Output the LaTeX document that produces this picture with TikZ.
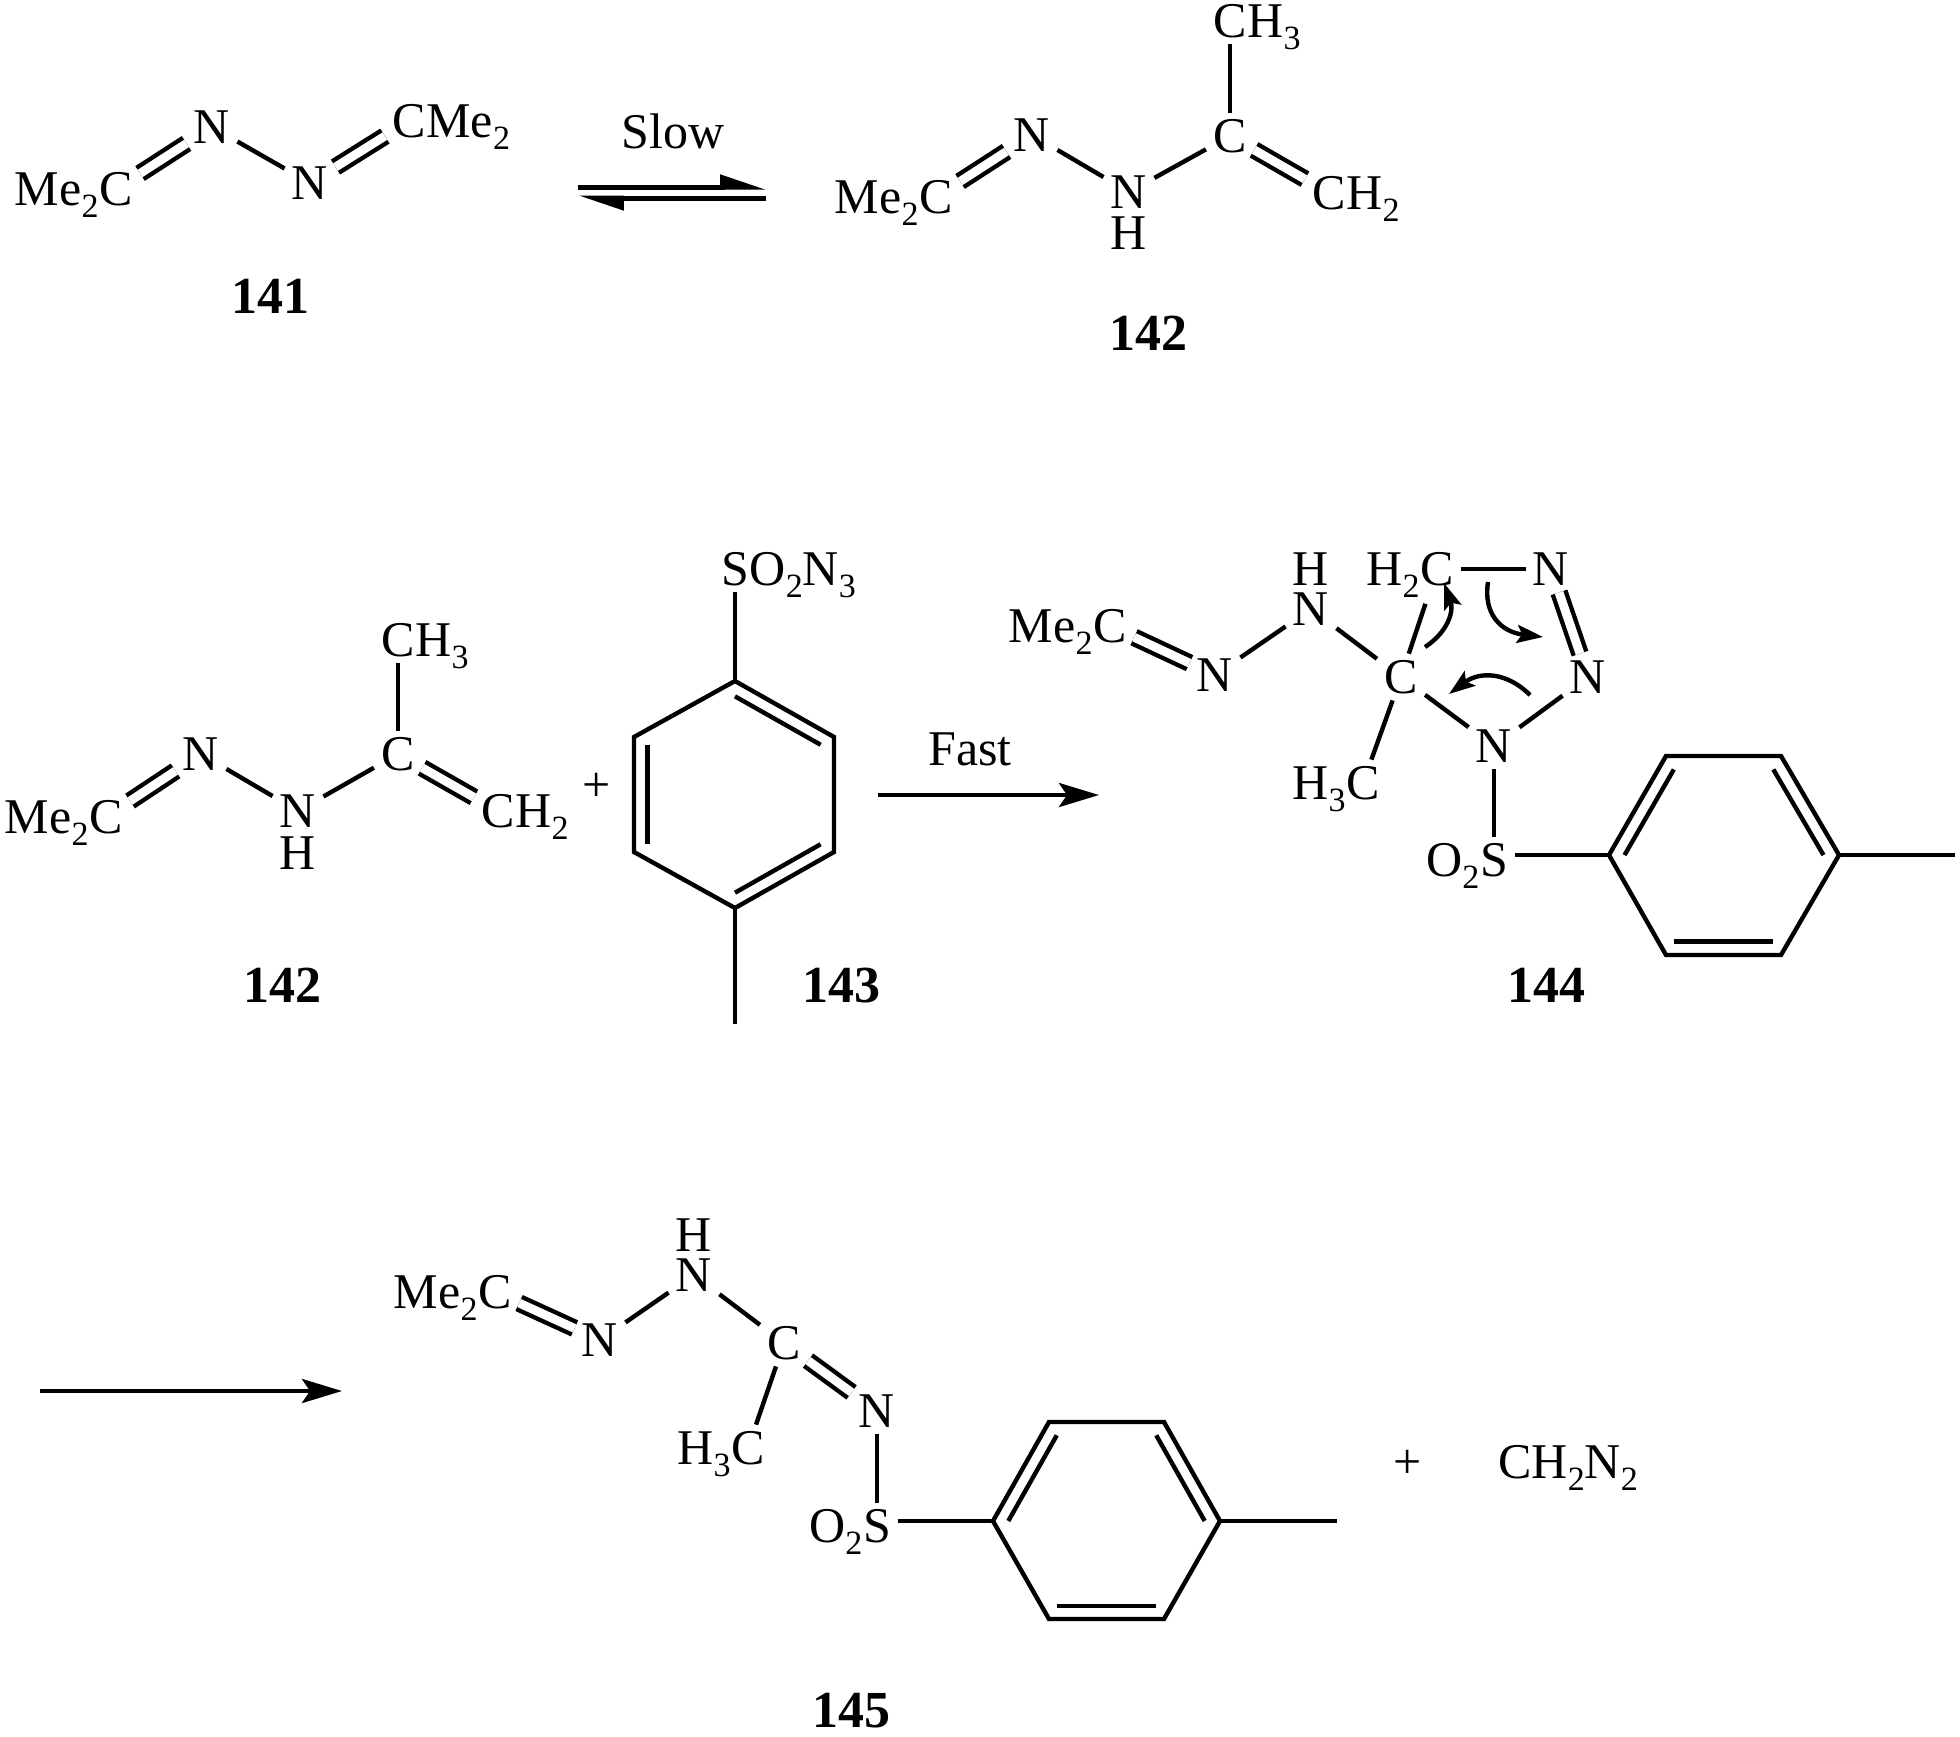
\documentclass[tikz,border=0pt]{standalone}
\usepackage{fontspec}
\setmainfont{Liberation Serif}
\usepackage{tikz}
\usetikzlibrary{arrows.meta,%
                calc,%
                positioning}
\newcommand{\Sb}[1]{\raisebox{-6pt}{\fontsize{17}{17}\selectfont #1}}

\begin{document}
\begin{tikzpicture}[x=0.5pt,y=-0.5pt]
  \tikzstyle{AtomStyle}=[font=\fontsize{25}{30}\selectfont,text height=16pt,text depth=0pt,inner sep=3.5pt]
  \tikzstyle{FragLeft}=[font=\fontsize{25}{30}\selectfont,inner sep=0pt,base left=-3.5pt of #1]
  \tikzstyle{FragRight}=[font=\fontsize{25}{30}\selectfont,inner sep=0pt,base right=-3.5pt of #1]
  \tikzstyle{TextStyle}=[font=\fontsize{25}{30}\selectfont,inner sep=0pt,anchor=base]
  \tikzstyle{NumStyle}=[font=\fontsize{26}{30}\selectfont\bfseries,inner sep=0pt,anchor=base]
  \tikzstyle{BondStyle}=[line width=2.2pt]
  \tikzstyle{DoubleStyle}=[line width=2.2pt,double,double distance=4.4pt]
  \tikzstyle{RingStyle}=[line width=2.2pt,line join=miter]
  \tikzstyle{FwdStyle}=[line width=2.2pt,-{Stealth[length=20pt,width=12pt,inset=4pt]}]
  \tikzstyle{EqStyle}=[line width=2.5pt,-{Stealth[harpoon,length=19pt,width=12pt,inset=0pt]}]
  \tikzstyle{CurveStyle}=[line width=2.2pt,-{Stealth[length=13pt,width=9pt,inset=2.5pt]}]
  \useasboundingbox (0,0) rectangle (1960,1736);

  % 141
  \node[AtomStyle] (AC) at (116,189) {C};
  \node[FragLeft=AC] (AMe) {Me\Sb{2}};
  \node[AtomStyle] (AN) at (212,127) {N};
  \node[AtomStyle] (BN) at (310,183) {N};
  \node[AtomStyle] (BC) at (409,121) {C};
  \node[FragRight=BC] (BMe) {Me\Sb{2}};
  \node[NumStyle] (N141) at (270,313) {141};
  \draw[DoubleStyle] (AC) -- (AN);
  \draw[BondStyle] (AN) -- (BN);
  \draw[DoubleStyle] (BN) -- (BC);

  % equilibrium
  \node[TextStyle] (Slow) at (673,148) {Slow};
  \coordinate (E1) at (578,187);
  \coordinate (E2) at (766,187);
  \coordinate (E3) at (766,198);
  \coordinate (E4) at (578,198);
  \draw[EqStyle] (E1) -- (E2);
  \draw[EqStyle] (E3) -- (E4);

  % 142 top
  \node[AtomStyle] (CC) at (936,197) {C};
  \node[FragLeft=CC] (CMe) {Me\Sb{2}};
  \node[AtomStyle] (CN) at (1032,135) {N};
  \node[AtomStyle] (DN) at (1129,192) {N};
  \node[AtomStyle] (DH) at (1129,233) {H};
  \node[AtomStyle] (DC) at (1230,136) {C};
  \node[AtomStyle] (EC) at (1230,21) {C};
  \node[FragRight=EC] (EH) {H\Sb{3}};
  \node[AtomStyle] (FC) at (1329,193) {C};
  \node[FragRight=FC] (FH) {H\Sb{2}};
  \node[NumStyle] (N142a) at (1148,350) {142};
  \draw[DoubleStyle] (CC) -- (CN);
  \draw[BondStyle] (CN) -- (DN);
  \draw[BondStyle] (DN) -- (DC);
  \draw[BondStyle] (DC) -- (EC);
  \draw[DoubleStyle] (DC) -- (FC);

  % 142 middle
  \node[AtomStyle] (GC) at (106,817) {C};
  \node[FragLeft=GC] (GMe) {Me\Sb{2}};
  \node[AtomStyle] (GN) at (201,754) {N};
  \node[AtomStyle] (HN) at (298,811) {N};
  \node[AtomStyle] (HH) at (298,853) {H};
  \node[AtomStyle] (HC) at (398,754) {C};
  \node[AtomStyle] (IC) at (398,640) {C};
  \node[FragRight=IC] (IH) {H\Sb{3}};
  \node[AtomStyle] (JC) at (498,811) {C};
  \node[FragRight=JC] (JH) {H\Sb{2}};
  \node[NumStyle] (N142b) at (282,1002) {142};
  \draw[DoubleStyle] (GC) -- (GN);
  \draw[BondStyle] (GN) -- (HN);
  \draw[BondStyle] (HN) -- (HC);
  \draw[BondStyle] (HC) -- (IC);
  \draw[DoubleStyle] (HC) -- (JC);
  \node[TextStyle] (Plus1) at (597,801) {+};

  % 143
  \coordinate (P0) at (735,794.5);
  \coordinate (P1) at (735,681);
  \coordinate (P2) at (834,737);
  \coordinate (P3) at (834,852);
  \coordinate (P4) at (735,908);
  \coordinate (P5) at (634,852);
  \coordinate (P6) at (634,737);
  \coordinate (PM) at (735,1024);
  \draw[RingStyle] (P1) -- (P2) -- (P3) -- (P4) -- (P5) -- (P6) -- cycle;
  \foreach \a/\b in {P1/P2,P3/P4,P5/P6}
    \draw[BondStyle] ($(\a)!.135!(P0)$) -- ($(\b)!.135!(P0)$);
  \node[AtomStyle] (PS) at (735,569) {S};
  \node[FragRight=PS] (PO) {O\Sb{2}N\Sb{3}};
  \draw[BondStyle] (PS) -- (P1);
  \draw[BondStyle] (P4) -- (PM);
  \node[NumStyle] (N143) at (841,1002) {143};

  % fast
  \node[TextStyle] (Fast) at (970,765) {Fast};
  \coordinate (F1) at (878,795);
  \coordinate (F2) at (1099,795);
  \draw[FwdStyle] (F1) -- (F2);

  % 144
  \node[AtomStyle] (KC) at (1110,626) {C};
  \node[FragLeft=KC] (KMe) {Me\Sb{2}};
  \node[AtomStyle] (KN) at (1215,675) {N};
  \node[AtomStyle] (LN) at (1311,609) {N};
  \node[AtomStyle] (LH) at (1311,569) {H};
  \node[AtomStyle] (LC) at (1401,677) {C};
  \node[AtomStyle] (MC) at (1437,569) {C};
  \node[FragLeft=MC] (MH) {H\Sb{2}};
  \node[AtomStyle] (MN) at (1551,569) {N};
  \node[AtomStyle] (ON) at (1588,677) {N};
  \node[AtomStyle] (QN) at (1494,746) {N};
  \node[AtomStyle] (QC) at (1363,783) {C};
  \node[FragLeft=QC] (QH) {H\Sb{3}};
  \node[AtomStyle] (QS) at (1494,860) {S};
  \node[FragLeft=QS] (QO) {O\Sb{2}};
  \draw[DoubleStyle] (KC) -- (KN);
  \draw[BondStyle] (KN) -- (LN);
  \draw[BondStyle] (LN) -- (LC);
  \draw[BondStyle,shorten >=6pt] (LC) -- (MC);
  \draw[BondStyle] (MC) -- (MN);
  \draw[DoubleStyle] (MN) -- (ON);
  \draw[BondStyle] (ON) -- (QN);
  \draw[BondStyle] (QN) -- (LC);
  \draw[BondStyle] (LC) -- (QC);
  \draw[BondStyle] (QN) -- (QS);
  \coordinate (R1s) at (1425,647);
  \coordinate (R1t) at (1444,583);
  \coordinate (R2s) at (1488,582);
  \coordinate (R2t) at (1543,637);
  \coordinate (R3s) at (1530,695);
  \coordinate (R3t) at (1449,694);
  \draw[CurveStyle] (R1s) .. controls (1448,632) and (1454,611) .. (R1t);
  \draw[CurveStyle] (R2s) .. controls (1483,614) and (1501,632) .. (R2t);
  \draw[CurveStyle] (R3s) .. controls (1507,672) and (1480,671) .. (R3t);
  \coordinate (T0) at (1724,855.5);
  \coordinate (T1) at (1609,855);
  \coordinate (T2) at (1666,756);
  \coordinate (T3) at (1781,756);
  \coordinate (T4) at (1839,855);
  \coordinate (T5) at (1781,955);
  \coordinate (T6) at (1666,955);
  \coordinate (TM) at (1955,855);
  \draw[RingStyle] (T1) -- (T2) -- (T3) -- (T4) -- (T5) -- (T6) -- cycle;
  \foreach \a/\b in {T1/T2,T3/T4,T5/T6}
    \draw[BondStyle] ($(\a)!.135!(T0)$) -- ($(\b)!.135!(T0)$);
  \draw[BondStyle] (QS.east |- T1) -- (T1);
  \draw[BondStyle] (T4) -- (TM);
  \node[NumStyle] (N144) at (1546,1002) {144};

  % 145
  \coordinate (U1) at (40,1391);
  \coordinate (U2) at (342,1391);
  \draw[FwdStyle] (U1) -- (U2);
  \node[AtomStyle] (VC) at (495,1292) {C};
  \node[FragLeft=VC] (VMe) {Me\Sb{2}};
  \node[AtomStyle] (VN) at (600,1340) {N};
  \node[AtomStyle] (WN) at (694,1275) {N};
  \node[AtomStyle] (WH) at (694,1235) {H};
  \node[AtomStyle] (WC) at (784,1343) {C};
  \node[AtomStyle] (XN) at (877,1411) {N};
  \node[AtomStyle] (YC) at (748,1448) {C};
  \node[FragLeft=YC] (YH) {H\Sb{3}};
  \node[AtomStyle] (XS) at (877,1526) {S};
  \node[FragLeft=XS] (XO) {O\Sb{2}};
  \draw[DoubleStyle] (VC) -- (VN);
  \draw[BondStyle] (VN) -- (WN);
  \draw[BondStyle] (WN) -- (WC);
  \draw[DoubleStyle] (WC) -- (XN);
  \draw[BondStyle] (WC) -- (YC);
  \draw[BondStyle] (XN) -- (XS);
  \coordinate (Z0) at (1106.5,1520.5);
  \coordinate (Z1) at (993,1521);
  \coordinate (Z2) at (1049,1422);
  \coordinate (Z3) at (1164,1422);
  \coordinate (Z4) at (1220,1521);
  \coordinate (Z5) at (1164,1619);
  \coordinate (Z6) at (1049,1619);
  \coordinate (ZM) at (1337,1521);
  \draw[RingStyle] (Z1) -- (Z2) -- (Z3) -- (Z4) -- (Z5) -- (Z6) -- cycle;
  \foreach \a/\b in {Z1/Z2,Z3/Z4,Z5/Z6}
    \draw[BondStyle] ($(\a)!.135!(Z0)$) -- ($(\b)!.135!(Z0)$);
  \draw[BondStyle] (XS.east |- Z1) -- (Z1);
  \draw[BondStyle] (Z4) -- (ZM);
  \node[TextStyle] (Plus2) at (1408,1478) {+};
  \node[font=\fontsize{25}{30}\selectfont,inner sep=0pt,anchor=base west] (Diaz) at (1498,1478) {CH\Sb{2}N\Sb{2}};
  \node[NumStyle] (N145) at (851,1727) {145};
\end{tikzpicture}
\end{document}
